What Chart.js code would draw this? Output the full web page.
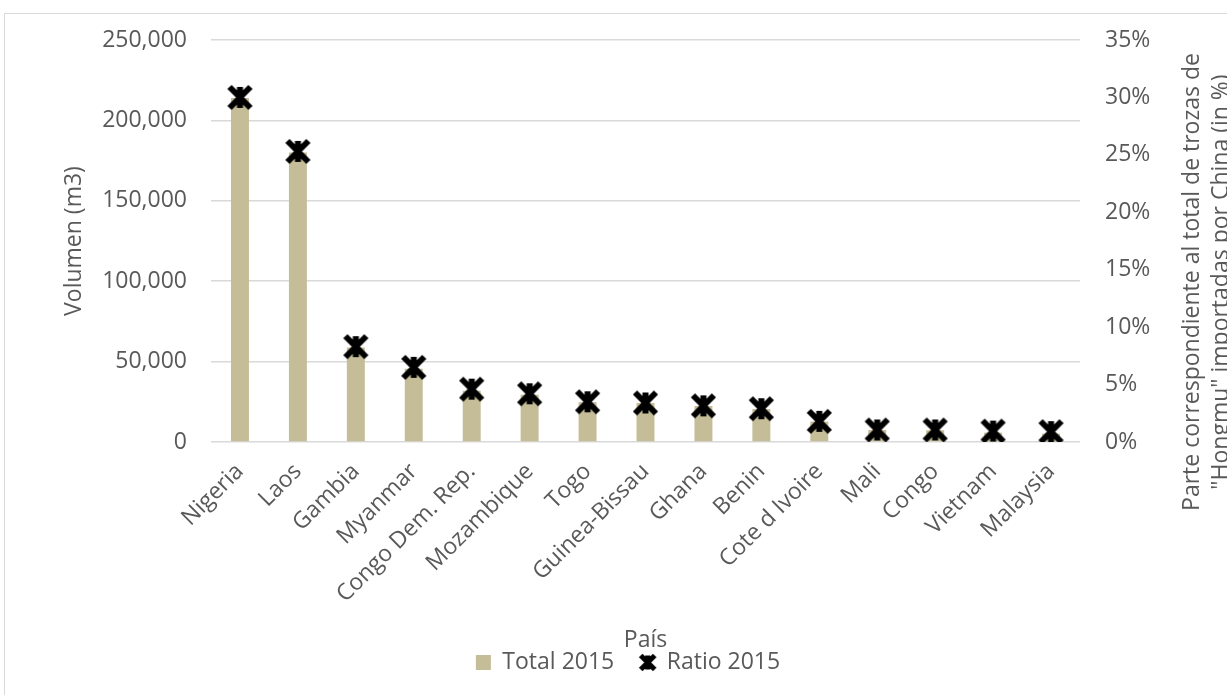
<!DOCTYPE html>
<html lang="es">
<head>
    <meta charset="UTF-8" />
    <title>Volumen y ratio 2015 por país</title>
    <script src="https://cdn.jsdelivr.net/npm/chart.js"></script>
    <style>
        html, body { margin: 0; padding: 0; background: #fff; overflow: hidden; }
        #marco {
            position: absolute; left: 4px; top: 13px;
            border-left: 1px solid #d9d9d9; border-top: 1px solid #d9d9d9;
        }
        canvas { display: block; }
    </style>
</head>
<body>
    <div id="marco">
        <canvas id="grafica" width="1222" height="690"></canvas>
    </div>

    <script>
        // datos
        const paises = ['Nigeria', 'Laos', 'Gambia', 'Myanmar', 'Congo Dem. Rep.', 'Mozambique', 'Togo',
            'Guinea-Bissau', 'Ghana', 'Benin', 'Cote d Ivoire', 'Mali', 'Congo', 'Vietnam', 'Malaysia'];
        const total2015 = [214000, 180000, 58700, 45600, 31900, 29400, 24800, 24300, 22400, 20500,
            12700, 7500, 7300, 5800, 5200];
        const ratio2015 = [30.0, 25.3, 8.3, 6.5, 4.6, 4.2, 3.5, 3.4, 3.15, 2.9, 1.8, 1.05, 1.05, 0.95, 0.9];
        const tituloDerecha = ['Parte correspondiente al total de trozas de',
            '"Hongmu" importadas por China (in %)'];

        const gris = '#595959';
        const fuente = { family: '"Open Sans", sans-serif', size: 23 };

        // marcador tipo asterisco de Excel (X + barra vertical)
        function marcador(tam, grosor) {
            const c = document.createElement('canvas');
            c.width = tam; c.height = tam;
            const g = c.getContext('2d');
            const m = grosor * 0.5;
            g.strokeStyle = '#000';
            g.lineWidth = grosor;
            g.beginPath();
            g.moveTo(m, m); g.lineTo(tam - m, tam - m);
            g.moveTo(tam - m, m); g.lineTo(m, tam - m);
            g.moveTo(tam / 2, m); g.lineTo(tam / 2, tam - m);
            g.stroke();
            return c;
        }
        const cruz = marcador(27, 6);
        const cruzLeyenda = marcador(19, 5);

        const tituloDerechoPlugin = {
            id: 'tituloDerecho',
            afterDraw(chart) {
                const ctx = chart.ctx;
                ctx.save();
                ctx.translate(1194, 268);
                ctx.rotate(-Math.PI / 2);
                ctx.fillStyle = gris;
                ctx.font = '23px "Open Sans", sans-serif';
                ctx.textAlign = 'center';
                ctx.textBaseline = 'alphabetic';
                ctx.fillText(tituloDerecha[0], 0, 0);
                ctx.fillText(tituloDerecha[1], 0, 29);
                ctx.restore();
            }
        };

        // quita el margen extra que Chart.js deja arriba y abajo de los ejes verticales
        function ajustarVertical(ancho) {
            return scale => {
                scale.width = ancho;
                scale.paddingTop = 14;
                scale.paddingBottom = 14;
            };
        }

        const ctx = document.getElementById('grafica').getContext('2d');
        new Chart(ctx, {
            data: {
                labels: paises,
                datasets: [{
                    type: 'bar',
                    label: 'Total 2015',
                    data: total2015,
                    backgroundColor: '#c4bd97',
                    yAxisID: 'y',
                    categoryPercentage: 1,
                    barPercentage: 0.31,
                    order: 1
                }, {
                    type: 'line',
                    label: 'Ratio 2015',
                    data: ratio2015,
                    yAxisID: 'y1',
                    showLine: false,
                    pointStyle: cruz,
                    pointRadius: 13,
                    order: 0
                }]
            },
            options: {
                responsive: false,
                animation: false,
                devicePixelRatio: 1,
                layout: { padding: { top: 26, bottom: 20, left: 24, right: 0 } },
                plugins: {
                    tooltip: { enabled: false },
                    legend: {
                        position: 'bottom',
                        labels: {
                            usePointStyle: true,
                            boxWidth: 15,
                            boxHeight: 15,
                            padding: 26,
                            color: gris,
                            font: fuente,
                            generateLabels(chart) {
                                return [{
                                    text: 'Total 2015', fillStyle: '#c4bd97', strokeStyle: '#c4bd97',
                                    lineWidth: 0, pointStyle: 'rect', datasetIndex: 0, fontColor: gris
                                }, {
                                    text: 'Ratio 2015', fillStyle: '#000', strokeStyle: '#000',
                                    lineWidth: 0, pointStyle: cruzLeyenda, datasetIndex: 1, fontColor: gris
                                }];
                            }
                        }
                    }
                },
                scales: {
                    x: {
                        grid: { display: false },
                        border: { display: false },
                        ticks: { color: gris, font: fuente, minRotation: 45, maxRotation: 45, padding: 8 },
                        title: {
                            display: true, text: 'País', color: gris, font: fuente,
                            padding: { top: 0, bottom: -29 }
                        },
                        afterFit(scale) { scale.height = 183; }
                    },
                    y: {
                        position: 'left',
                        min: 0, max: 250000,
                        ticks: {
                            stepSize: 50000, color: gris, font: fuente, padding: 24,
                            callback: v => v.toLocaleString('en-US')
                        },
                        grid: { color: '#d9d9d9', lineWidth: 1.5, drawTicks: false },
                        border: { display: false },
                        title: {
                            display: true, text: 'Volumen (m3)', color: gris, font: fuente,
                            padding: { top: 32, bottom: 0 }
                        },
                        afterFit: ajustarVertical(182)
                    },
                    y1: {
                        position: 'right',
                        min: 0, max: 35,
                        ticks: {
                            stepSize: 5, color: gris, font: fuente, padding: 25,
                            callback: v => v + '%'
                        },
                        grid: { display: false, drawTicks: false },
                        border: { display: false },
                        afterFit: ajustarVertical(147)
                    }
                }
            },
            plugins: [tituloDerechoPlugin]
        });
    </script>
</body>
</html>
